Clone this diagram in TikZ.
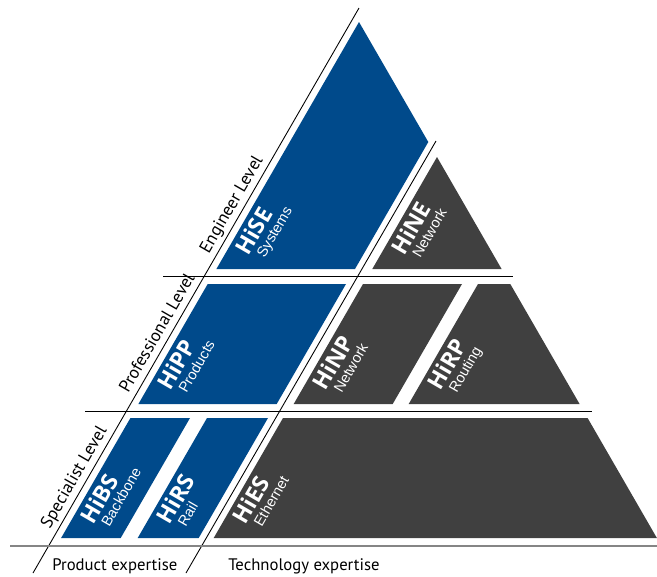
\documentclass[tikz,border=0pt]{standalone}
\usepackage{fontspec}
\setmainfont{PT Sans}
\newfontfamily\titlefont{Open Sans}
\newfontfamily\subfont{Liberation Sans}
\usepackage{xcolor}
\definecolor{hblue}{HTML}{004A8B}
\definecolor{hgray}{HTML}{404040}
\definecolor{baseline}{HTML}{858585}

\begin{document}
\begin{tikzpicture}[
    x=0.02cm, y=-0.02cm,
    product/.style={fill=hblue},
    techno/.style={fill=hgray},
    divider/.style={draw=black, line width=0.5pt},
    groundline/.style={draw=baseline, line width=1.2pt},
    title/.style={text=white, font=\titlefont\bfseries\fontsize{13}{13}\selectfont,
        rotate=60, anchor=base west, inner sep=0pt},
    subtitle/.style={text=white, font=\subfont\fontsize{8.3}{8.3}\selectfont,
        rotate=60, anchor=base west, inner sep=0pt},
    level/.style={font=\fontsize{9.9}{9.9}\selectfont, rotate=60,
        anchor=base west, inner sep=0pt},
    expertise/.style={font=\fontsize{9.5}{9.5}\selectfont, anchor=base west,
        inner sep=0pt}
]
\useasboundingbox (0,0) rectangle (657,576);

% Engineer level: systems and network.
\fill[product] (359,22) -- (428.3,142) -- (355,269) -- (216.4,269) -- cycle;
\fill[techno] (437,157) -- (501.6,269) -- (372.3,269) -- cycle;

% Professional level: products, network, routing.
\fill[product] (207.7,284) -- (346,284) -- (276.7,404) -- (138.4,404) -- cycle;
\fill[techno] (363,284) -- (462,284) -- (392.7,404) -- (293.7,404) -- cycle;
\fill[techno] (478,284) -- (510.3,284) -- (579.6,404) -- (408.7,404) -- cycle;

% Specialist level: backbone, rail, ethernet.
\fill[product] (130.4,418) -- (190,418) -- (120.7,538) -- (61.1,538) -- cycle;
\fill[product] (207,418) -- (268,418) -- (198.7,538) -- (137.7,538) -- cycle;
\fill[techno] (283,418) -- (587.6,418) -- (656.9,538) -- (213.7,538) -- cycle;

% Level and expertise dividers.
\coordinate (lvl-top) at (359,8);
\coordinate (lvl-bot) at (33,573);
\coordinate (exp-top) at (436,141);
\coordinate (exp-bot) at (186,573);
\draw[divider] (lvl-top) -- (lvl-bot);
\draw[divider] (exp-top) -- (exp-bot);
\draw[divider] (163,276) -- (513,276);
\draw[divider] (85,411) -- (592,411);
\draw[groundline] (10,546) -- (657,546);

% Course labels, placed from the lower left corner of each block.
\foreach \nm/\bx/\by/\tit/\sub in {se/216.4/269/HiSE/Systems,
        ne/372.3/269/HiNE/Network, pp/138.4/404/HiPP/Products,
        np/293.7/404/HiNP/Network, rp/408.7/404/HiRP/Routing,
        bs/61.1/538/HiBS/Backbone, rs/137.7/538/HiRS/Rail,
        es/213.7/538/HiES/Ethernet} {
    \node[title] (\nm-t) at ({\bx+32},{\by-12}) {\tit};
    \node[subtitle] (\nm-s) at ({\bx+48},{\by-10}) {\sub};
}

\node[level] (eng) at (208.6,254.5) {Engineer Level};
\node[level] (pro) at (128.3,393.5) {Professional Level};
\node[level] (spe) at (49.8,529.5) {Specialist Level};

\node[expertise] (prod) at (52,570) {Product expertise};
\node[expertise] (tech) at (228,570) {Technology expertise};
\end{tikzpicture}
\end{document}
